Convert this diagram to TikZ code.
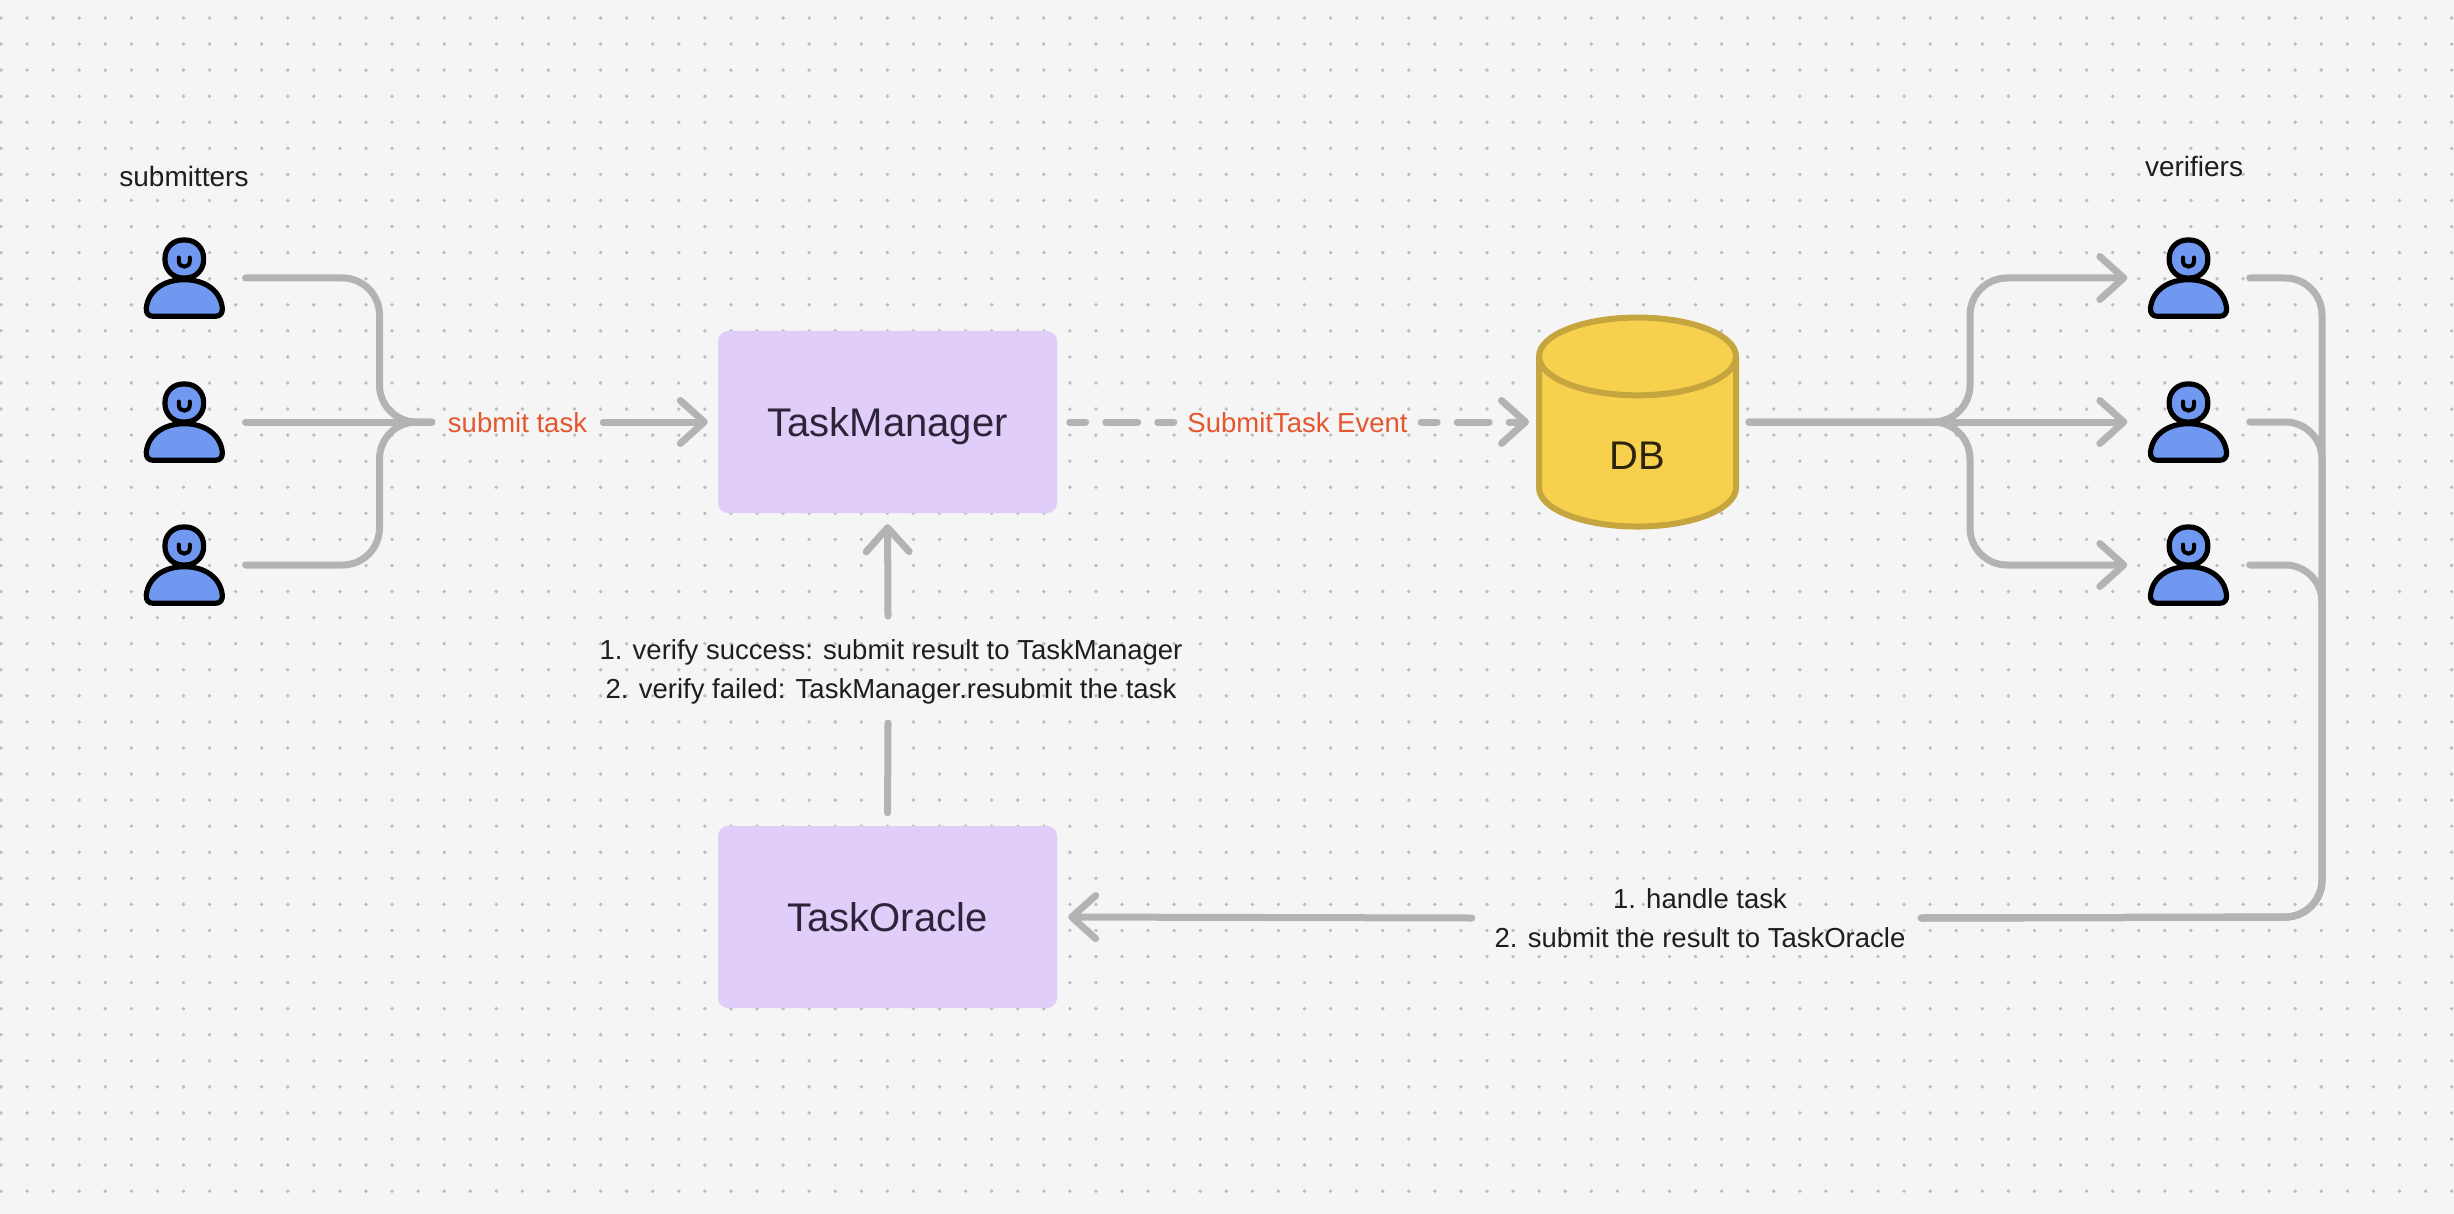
\documentclass[tikz,border=0pt]{standalone}
\usepackage{fontspec}
\setmainfont{Liberation Sans}
\usepackage{tikz}
\usetikzlibrary{positioning}
\usetikzlibrary{shapes.geometric}
\usetikzlibrary{arrows.meta}
\definecolor{pagebg}{HTML}{F5F5F5}
\definecolor{dotgray}{HTML}{BDBDBD}
\definecolor{linkgray}{HTML}{B3B3B3}
\definecolor{boxfill}{HTML}{E0CDFA}
\definecolor{boxtext}{HTML}{2C2438}
\definecolor{dbfill}{HTML}{F7D04E}
\definecolor{dbline}{HTML}{C5A53E}
\definecolor{dbtext}{HTML}{2B2410}
\definecolor{actorblue}{HTML}{7098F0}
\definecolor{notered}{HTML}{E4572E}
\definecolor{notetext}{HTML}{1E1E1E}
\tikzset{
	link/.style={draw=linkgray,line width=7pt,line cap=round,line join=round,rounded corners=37pt},
	tip/.style={-{Straight Barb[length=24pt,width=43pt,round]}},
	dashlink/.style={link,dash pattern=on 32pt off 20pt,dash phase=16pt},
	actor/.style={minimum width=122pt,minimum height=90pt,inner sep=0pt},
	taskbox/.style={fill=boxfill,text=boxtext,rounded corners=10pt,minimum width=339pt,minimum height=182pt,text height=29pt,text depth=0pt,font=\fontsize{40}{48}\selectfont},
	dbnode/.style={cylinder,shape border rotate=90,aspect=1.25,draw=dbline,fill=dbfill,line width=6pt,minimum width=197pt,minimum height=209pt,font=\fontsize{40}{48}\selectfont},
	dbname/.style={text=dbtext,font=\fontsize{40}{48}\selectfont},
	note/.style={text=notetext,inner sep=0pt,font=\fontsize{27.5}{39}\selectfont},
	rednote/.style={text=notered,inner sep=0pt,text height=20pt,text depth=0pt,font=\fontsize{27.5}{32}\selectfont},
	actorline/.style={draw=black,line width=5.2pt,fill=actorblue,line join=round},
	actoricon/.pic={
		\draw[actorline,rounded corners=18pt] (-19.3,-38) rectangle (19.3,0);
		\draw[actorline] (-31,38.3) -- (31,38.3) .. controls (36,38.3) and (38.5,35) .. (38,30) .. controls (36,12) and (20,1.7) .. (0,1.7) .. controls (-20,1.7) and (-36,12) .. (-38,30) .. controls (-38.5,35) and (-36,38.3) .. (-31,38.3) -- cycle;
		\draw[draw=black,line width=4pt,line cap=round] (-5.5,-20.5) -- (-5.5,-17) .. controls (-5.5,-9.5) and (5.5,-9.5) .. (5.5,-17) -- (5.5,-20.5);
	},
}
\begin{document}
\begin{tikzpicture}[x=1pt,y=-1pt]
	\useasboundingbox (0,0) rectangle (2454,1214);
	\fill[pagebg] (0,0) rectangle (2454,1214);
	% dot grid
	\foreach \i in {0,...,94}
		\foreach \j in {0,...,45}
			\fill[dotgray] (1+26.07*\i,18+26.07*\j) circle[radius=1.9];
	%% submitters
	\node[note,anchor=base,font=\fontsize{28}{34}\selectfont] (sublabel) at (184,187) {submitters};
	\foreach \n/\y in {1/278,2/422,3/565}{
		\node[actor] (sub\n) at (184.3,\y) {};
		\pic at (sub\n) {actoricon};
	}
	%% verifiers
	\node[note,anchor=base,font=\fontsize{28}{34}\selectfont] (verlabel) at (2194,177) {verifiers};
	\foreach \n/\y in {1/278,2/422,3/565}{
		\node[actor] (ver\n) at (2188.5,\y) {};
		\pic at (ver\n) {actoricon};
	}
	%% boxes
	\node[taskbox] (tm) at (887.5,422) {TaskManager};
	\node[taskbox] (to) at (887.5,917) {TaskOracle};
	\node[dbnode] (db) at (1637.5,448) {\phantom{DB}};
	\node[dbname] (dbtitle) at (1637.5,456) {DB};
	%% labels on the links
	\node[rednote,minimum width=171pt] (submit) at (517.5,422) {submit task};
	\node[rednote,minimum width=247pt] (event) at (1297.5,422) {SubmitTask Event};
	\node[note,align=center] (verify) at (891,672) {1. verify success: submit result to TaskManager\\2. verify failed: TaskManager.resubmit the task};
	\node[note,align=center,minimum width=442pt] (handle) at (1700,918) {1. handle task\\2. submit the result to TaskOracle};
	\coordinate (mergeL) at (379.5,422);
	\coordinate (forkR) at (1970,422);
	\coordinate (mergeR) at (2322,917);
	\coordinate (verifyT) at (888,616);
	\coordinate (verifyB) at (888,723);
	% submitters to TaskManager
	\draw[link] (sub1.east) -| (mergeL) -- (submit.west);
	\draw[link] (sub2.east) -- (submit.west);
	\draw[link] (sub3.east) -| (mergeL) -- (submit.west);
	\draw[link,tip,shorten >=10pt] (submit.east) -- (tm.west);
	% TaskManager to DB
	\draw[dashlink,shorten <=12.5pt] (tm.east) -- (event.west);
	\draw[dashlink,tip,shorten >=7pt] (event.east) -- (event.east -| db.west);
	% DB to verifiers
	\draw[link,tip,shorten <=10pt] (forkR -| db.east) -- (forkR) |- (ver1.west);
	\draw[link,tip,shorten <=10pt] (forkR -| db.east) -- (ver2.west);
	\draw[link,tip,shorten <=10pt] (forkR -| db.east) -- (forkR) |- (ver3.west);
	% verifiers to TaskOracle
	\draw[link] (ver1.east) -| (mergeR) -- (handle.east);
	\draw[link] (ver2.east) -| (mergeR) -- (handle.east);
	\draw[link] (ver3.east) -| (mergeR) -- (handle.east);
	\draw[link,tip,shorten >=11pt] ([xshift=-7pt]handle.west) -- (to.east);
	% TaskOracle to TaskManager
	\draw[link,shorten <=13pt] (to.north) -- (verifyB);
	\draw[link,tip,shorten >=11pt] (verifyT) -- (tm.south);
\end{tikzpicture}
\end{document}
